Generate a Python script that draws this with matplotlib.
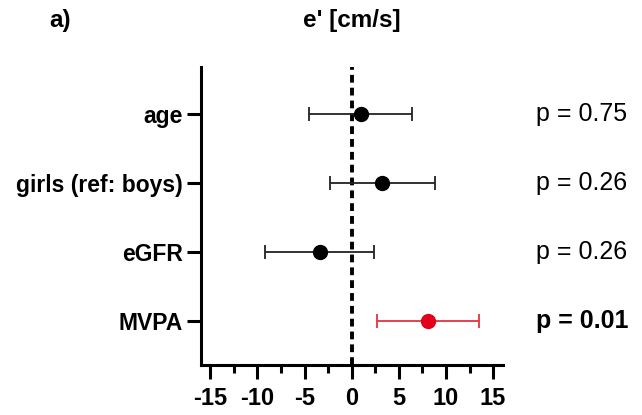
import matplotlib
matplotlib.use("Agg")
import matplotlib.pyplot as plt
from matplotlib.ticker import MultipleLocator

labels = ["age", "girls (ref: boys)", "eGFR", "MVPA"]
estimates = [0.95, 3.2, -3.4, 8.05]
ci_low = [-4.5, -2.35, -9.25, 2.65]
ci_high = [6.4, 8.8, 2.4, 13.5]
pvals = ["p = 0.75", "p = 0.26", "p = 0.26", "p = 0.01"]
significant = [False, False, False, True]
xticks = [-15, -10, -5, 0, 5, 10, 15]

plt.rcParams['font.family'] = ['Liberation Sans', 'DejaVu Sans']

fig = plt.figure(figsize=(6.42, 4.15), dpi=100)
ax = fig.add_axes([0.313, 0.1205, 0.4705, 0.7181])

ypos = list(range(len(labels), 0, -1))
ax.axvline(0, color='black', lw=2.8, dashes=(2.0, 1.3), zorder=1)

for y, est, lo, hi, sig in zip(ypos, estimates, ci_low, ci_high, significant):
    col = '#e3001b' if sig else 'black'
    ecol = '#e3343f' if sig else '#222222'
    ax.errorbar(est, y, xerr=[[est - lo], [hi - est]], fmt='none', ecolor=ecol,
                elinewidth=1.3, capsize=5, capthick=1.3, zorder=2)
    ax.plot(est, y, 'o', color=col, markersize=10, zorder=3)

ax.set_xlim(-16, 16.05)
ax.set_ylim(0.36, 4.68)
ax.set_xticks(xticks)
ax.set_xticklabels([str(t) for t in xticks])
ax.xaxis.set_minor_locator(MultipleLocator(2.5))
ax.set_yticks(ypos)
ax.set_yticklabels(labels)

for s in ['top', 'right']:
    ax.spines[s].set_visible(False)
for s in ['left', 'bottom']:
    ax.spines[s].set_linewidth(2.2)

ax.tick_params(axis='x', which='major', length=10, width=2.2, labelsize=17, pad=6)
ax.tick_params(axis='x', which='minor', length=6, width=2.2)
ax.tick_params(axis='y', which='major', length=10, width=2.2, labelsize=16.5, pad=3)
for lab in ax.get_xticklabels() + ax.get_yticklabels():
    lab.set_fontweight('bold')

for y, p, sig in zip(ypos, pvals, significant):
    ax.annotate(p, xy=(536 / 642, y), xycoords=('figure fraction', 'data'),
                fontsize=18, fontweight='bold' if sig else 'normal',
                ha='left', va='center')

fig.text(352 / 642, 1 - 20 / 415, "e' [cm/s]", fontsize=17.5, fontweight='bold',
         ha='center', va='center')
fig.text(49 / 642, 1 - 20 / 415, "a)", fontsize=17.5, fontweight='bold',
         ha='left', va='center')

fig.savefig("out.png", dpi=100)
